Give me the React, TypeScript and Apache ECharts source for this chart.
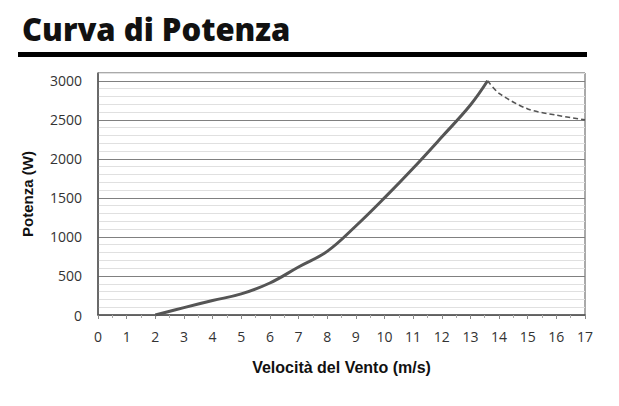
import React, { useEffect, useRef } from "react";
import * as echarts from "echarts";

const titleText = "Curva di Potenza";
const xAxisName = "Velocità del Vento (m/s)";
const yAxisName = "Potenza (W)";

const solidSpeed = [2, 3, 4, 5, 6, 7, 8, 9, 10, 11, 12, 13, 13.6];
const solidPower = [0, 95, 185, 270, 410, 615, 815, 1140, 1500, 1880, 2280, 2690, 3000];
const dashSpeed = [13.6, 14, 15, 16, 17];
const dashPower = [3000, 2840, 2640, 2560, 2500];

export default function App() {
  const ref = useRef<HTMLDivElement>(null);
  useEffect(() => {
    const chart = echarts.init(ref.current!, null, { renderer: "svg" });
    const pair = (xs: number[], ys: number[]) => xs.map((x, i) => [x, ys[i]]);
    chart.setOption({
      animation: false,
      backgroundColor: "#ffffff",
      title: {
        text: titleText,
        left: 17,
        top: 8,
        textStyle: {
          fontFamily: "Noto Sans",
          fontWeight: 900,
          fontSize: 31,
          color: "#111",
        },
      },
      graphic: [
        {
          type: "rect",
          shape: { x: 18, y: 52, width: 569, height: 5 },
          style: { fill: "#000" },
        },
      ],
      grid: {
        left: 98,
        right: 34,
        top: 73,
        bottom: 91,
        show: true,
        borderColor: "#555",
        borderWidth: 1,
        backgroundColor: "transparent",
      },
      xAxis: {
        type: "value",
        min: 0,
        max: 17,
        interval: 1,
        name: xAxisName,
        nameLocation: "middle",
        nameGap: 44,
        nameTextStyle: {
          fontFamily: "Liberation Sans",
          fontWeight: "bold",
          fontSize: 16,
          color: "#111",
        },
        axisLine: { show: true, lineStyle: { color: "#555", width: 1.5 } },
        axisTick: { show: true, length: 4, lineStyle: { color: "#888" } },
        minorTick: { show: true, splitNumber: 2, length: 3, lineStyle: { color: "#aaa" } },
        splitLine: { show: false },
        axisLabel: {
          margin: 14,
          fontFamily: "Open Sans",
          fontSize: 14,
          color: "#333",
        },
      },
      yAxis: {
        type: "value",
        min: 0,
        max: 3100,
        interval: 100,
        name: yAxisName,
        nameLocation: "middle",
        nameGap: 63,
        nameRotate: 90,
        nameTextStyle: {
          fontFamily: "Liberation Sans",
          fontWeight: "bold",
          fontSize: 15,
          color: "#111",
        },
        axisLine: { show: true, lineStyle: { color: "#555", width: 1.5 } },
        axisTick: { show: false },
        splitLine: {
          show: true,
          lineStyle: {
            color: ["#808080", "#e0e0e0", "#e0e0e0", "#e0e0e0", "#e0e0e0"],
            width: 1,
          },
        },
        axisLabel: {
          margin: 16,
          fontFamily: "Open Sans",
          fontSize: 14,
          color: "#333",
          formatter: (v: number) => (v % 500 === 0 ? String(v) : ""),
        },
      },
      series: [
        {
          type: "line",
          data: pair(solidSpeed, solidPower),
          smooth: 0.4,
          showSymbol: false,
          lineStyle: { color: "#555", width: 3 },
        },
        {
          type: "line",
          data: pair(dashSpeed, dashPower),
          smooth: 0.3,
          showSymbol: false,
          lineStyle: { color: "#555", width: 1.6, type: [5, 3] },
        },
      ],
    });
    return () => chart.dispose();
  }, []);
  return (
    <div
      ref={ref}
      style={{ position: "fixed", left: 0, top: 0, width: 619, height: 406 }}
    />
  );
}
